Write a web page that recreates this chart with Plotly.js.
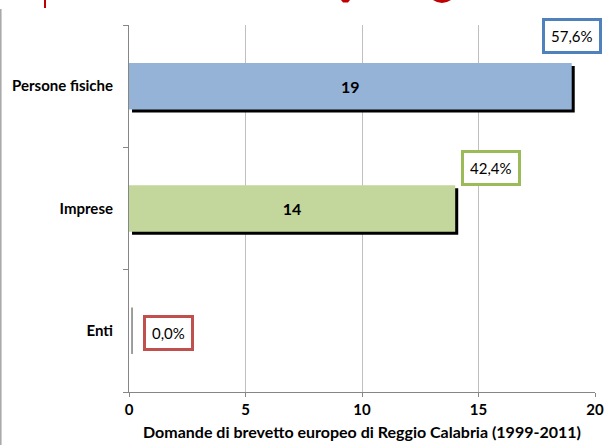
<!DOCTYPE html>
<html>
<head>
<meta charset="utf-8">
<script src="https://cdn.plot.ly/plotly-3.0.1.min.js"></script>
<style>html,body{margin:0;padding:0;background:#fff;}#chart{width:609px;height:445px;}</style>
</head>
<body>
<div id="chart"></div>
<script>
var categories = ['Persone fisiche', 'Imprese', 'Enti'];
var values = [19, 14, 0];
var shares = ['57,6%', '42,4%', '0,0%'];
var barColors = ['#95B3D7', '#C3D69B', '#E6B9B8'];
var boxColors = ['#4F81BD', '#9BBB59', '#C0504D'];
var xTicks = [0, 5, 10, 15, 20];
var xTitle = 'Domande di brevetto europeo di Reggio Calabria (1999-2011)';

var FONT = 'Lato, "Open Sans", sans-serif';
var barW = 0.38;
var shadowBase = 0.13;
var shadowShift = 0.025;
var PW = 466, PH = 367;

var shadow = {
  type: 'bar', orientation: 'h',
  y: categories, x: values, base: shadowBase,
  width: barW, offset: -barW / 2 + shadowShift,
  marker: {color: '#000000'},
  hoverinfo: 'skip', showlegend: false
};
var bars = {
  type: 'bar', orientation: 'h',
  y: categories, x: values,
  width: barW, offset: -barW / 2,
  marker: {color: barColors},
  text: values.map(function (v) { return v > 0 ? '<b>' + v + '</b>' : ''; }),
  textposition: 'inside', insidetextanchor: 'middle',
  textfont: {family: FONT, size: 16, color: '#000000'},
  showlegend: false
};

var xShifts = [0, 36, 39];
var yShifts = [50, 41, -2];
var annotations = categories.map(function (c, i) {
  return {
    x: values[i], y: c, xref: 'x', yref: 'y',
    text: shares[i], showarrow: false,
    xanchor: 'center', yanchor: 'middle',
    xshift: xShifts[i], yshift: yShifts[i],
    font: {family: FONT, size: 15, color: '#000000'},
    bgcolor: '#FFFFFF', bordercolor: boxColors[i], borderwidth: 3, borderpad: 6
  };
});

function px(x) { return (x - 129) / PW; }
function py(y) { return 1 + (25 - y) / PH; }

var shapes = [
  // zero-bar sliver for Enti
  {type: 'line', xref: 'x', yref: 'y', x0: values[2] + shadowBase, x1: values[2] + shadowBase,
   y0: 2 - barW / 2, y1: 2 + barW / 2, line: {color: '#7F7F7F', width: 1.5}},
  // outer frame (left edge)
  {type: 'line', xref: 'paper', yref: 'paper', x0: px(0.8), x1: px(0.8), y0: py(445), y1: py(9),
   line: {color: '#A6A6A6', width: 1.5}},
  // cut-off red title fragments
  {type: 'line', xref: 'paper', yref: 'paper', x0: px(45), x1: px(45), y0: py(8), y1: py(0),
   line: {color: '#C00000', width: 2}},
  {type: 'path', xref: 'paper', yref: 'paper',
   path: 'M ' + px(341) + ',' + py(0) + ' L ' + px(343) + ',' + py(2.5) + ' L ' + px(348) + ',' + py(2.5) + ' L ' + px(350) + ',' + py(0) + ' Z',
   fillcolor: '#C00000', line: {width: 0}},
  {type: 'path', xref: 'paper', yref: 'paper',
   path: 'M ' + px(433) + ',' + py(0) + ' Q ' + px(442) + ',' + py(6) + ' ' + px(451) + ',' + py(0) + ' Z',
   fillcolor: '#C00000', line: {width: 0}}
];

var layout = {
  width: 609, height: 445,
  margin: {l: 129, r: 14, t: 25, b: 53, pad: 0},
  paper_bgcolor: '#FFFFFF', plot_bgcolor: '#FFFFFF',
  barmode: 'overlay',
  font: {family: FONT, color: '#000000'},
  xaxis: {
    range: [0, 20], tickvals: xTicks, ticktext: xTicks.map(function (t) { return '<b>' + t + '</b>'; }),
    showgrid: true, gridcolor: '#BFBFBF', gridwidth: 1,
    zeroline: false, showline: true, linecolor: '#868686', linewidth: 1,
    ticks: 'outside', ticklen: 4, tickcolor: '#868686',
    tickfont: {family: FONT, size: 15, color: '#000000'},
    title: {text: '<b>' + xTitle + '</b>', font: {family: FONT, size: 16, color: '#000000'}, standoff: 9},
    fixedrange: true
  },
  yaxis: {
    type: 'category', autorange: 'reversed',
    tickson: 'boundaries', ticks: 'outside', ticklen: 5, tickcolor: '#868686',
    showgrid: false, showline: true, linecolor: '#868686', linewidth: 1,
    ticktext: categories.map(function (c) { return '<b>' + c + '</b>'; }), tickvals: categories,
    tickfont: {family: FONT, size: 15, color: '#000000'},
    ticklabelstandoff: 12,
    fixedrange: true
  },
  annotations: annotations,
  shapes: shapes,
  showlegend: false
};

Plotly.newPlot('chart', [shadow, bars], layout, {displayModeBar: false, staticPlot: true});
</script>
</body>
</html>
